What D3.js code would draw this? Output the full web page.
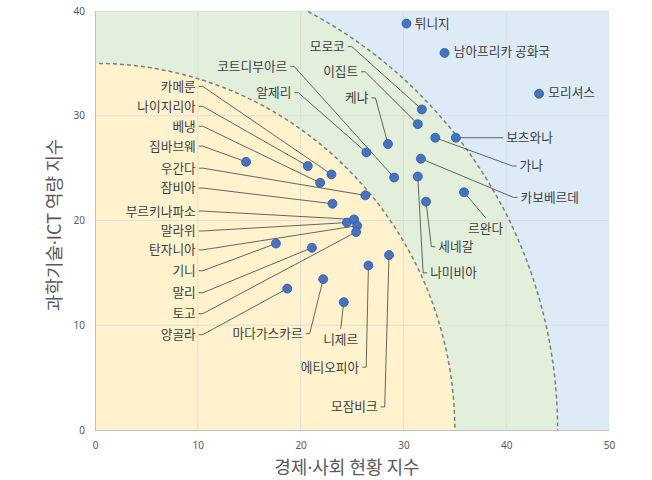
<!DOCTYPE html>
<html><head><meta charset="utf-8">
<script src="https://cdn.jsdelivr.net/npm/d3@7"></script>
<style>body{margin:0;background:#fff;}svg{display:block;font-family:"Noto Sans CJK KR","Noto Sans",sans-serif;}</style>
</head><body><svg id="c" width="652" height="480"></svg>
<script>
// ---- data ----
const countries = ["튀니지","남아프리카 공화국","모리셔스","모로코","이집트","케냐","보츠와나","가나","알제리","코트디부아르","카보베르데","나미비아","세네갈","르완다","짐바브웨","나이지리아","카메룬","베냉","우간다","잠비아","말라위","부르키나파소","탄자니아","토고","기니","말리","에티오피아","모잠비크","마다가스카르","양골라","니제르"];
const econIndex = [30.3,34.0,43.2,31.8,31.4,28.5,35.1,33.1,26.4,29.1,31.7,31.4,32.2,35.9,14.7,20.7,23.0,21.9,26.3,23.1,24.5,25.2,25.5,25.4,17.6,21.1,26.6,28.6,22.2,18.7,24.2];
const ictIndex  = [38.8,36.0,32.1,30.6,29.2,27.3,27.9,27.9,26.5,24.1,25.9,24.2,21.8,22.7,25.6,25.2,24.4,23.6,22.4,21.6,19.8,20.1,19.5,18.9,17.8,17.4,15.7,16.7,14.4,13.5,12.2];
// label anchor points (axis units) and label side
const labelX = [31.1,34.9,44.1,24.3,25.6,26.6,40.0,41.3,19.1,18.7,41.4,32.6,33.4,38.0,9.8,9.8,9.8,9.8,9.8,9.8,9.8,9.8,9.8,9.8,9.8,9.8,25.7,27.5,20.2,9.8,23.9];
const labelY = [38.8,36.1,32.2,36.6,34.2,31.7,27.9,25.2,32.2,34.7,22.2,15.0,17.5,19.2,27.1,30.9,32.8,29.0,25.0,23.1,19.0,20.9,17.2,11.1,15.2,13.1,6.0,2.2,9.2,9.1,8.6];
const labelSide = ["r","r","r","l","l","l","r","r","l","l","r","r","r","b","l","l","l","l","l","l","l","l","l","l","l","l","l","l","l","l","b"];
const leaderOn = [0,0,0,1,1,1,1,1,1,1,1,1,1,1,1,1,1,1,1,1,1,1,1,1,1,1,1,1,1,1,1];
const xTicks = [0,10,20,30,40,50];
const yTicks = [0,10,20,30,40];
const zoneRadii = [45,35];
const xTitleParts = ["경제","·","사회 현황 지수"];
const yTitleParts = ["과학기술","·","ICT 역량 지수"];

// ---- layout ----
const svg = d3.select("#c");
const L=95,T=11,R=609,B=430;
const x = d3.scaleLinear().domain([0,50]).range([L,R]);
const y = d3.scaleLinear().domain([0,40]).range([B,T]);

svg.append("clipPath").attr("id","pc").append("rect").attr("x",L).attr("y",T).attr("width",R-L).attr("height",B-T);
const plot = svg.append("g").attr("clip-path","url(#pc)");
plot.append("rect").attr("x",L).attr("y",T).attr("width",R-L).attr("height",B-T).attr("fill","#DDEBF7");
const zoneFill = ["#E2EFDA","#FFF2CC"];
zoneRadii.forEach((r,i)=>{
  plot.append("ellipse").attr("cx",x(0)).attr("cy",y(0))
    .attr("rx",x(r)-x(0)).attr("ry",y(0)-y(r)).attr("fill",zoneFill[i]);
});
// gridlines
plot.selectAll(".gx").data(xTicks.slice(1)).enter().append("line")
  .attr("x1",d=>x(d)).attr("x2",d=>x(d)).attr("y1",T).attr("y2",B)
  .attr("stroke","#d9d9d9").attr("stroke-opacity",0.8).attr("stroke-width",1);
plot.selectAll(".gy").data(yTicks.slice(1)).enter().append("line")
  .attr("y1",d=>y(d)).attr("y2",d=>y(d)).attr("x1",L).attr("x2",R)
  .attr("stroke","#d9d9d9").attr("stroke-opacity",0.8).attr("stroke-width",1);
zoneRadii.forEach(r=>{
  plot.append("ellipse").attr("cx",x(0)).attr("cy",y(0))
    .attr("rx",x(r)-x(0)).attr("ry",y(0)-y(r)).attr("fill","none")
    .attr("stroke","#7f7f7f").attr("stroke-width",1.5).attr("stroke-dasharray","4,3");
});
// axes lines
svg.append("line").attr("x1",L+0.5).attr("x2",L+0.5).attr("y1",T).attr("y2",B).attr("stroke","#bfbfbf");
svg.append("line").attr("x1",L).attr("x2",R).attr("y1",B+0.5).attr("y2",B+0.5).attr("stroke","#bfbfbf");

// ticks
const xAxis = svg.append("g").attr("transform",`translate(0,${B})`)
  .call(d3.axisBottom(x).tickValues(xTicks).tickSize(0).tickPadding(12));
const yAxis = svg.append("g").attr("transform",`translate(${L},0)`)
  .call(d3.axisLeft(y).tickValues(yTicks).tickSize(0).tickPadding(10));
[xAxis,yAxis].forEach(a=>{
  a.select(".domain").remove();
  a.selectAll("text").attr("fill","#595959").style("font-size","10px").style("font-family","'Noto Sans','DejaVu Sans',sans-serif");
});

// titles
function titleText(sel, parts){
  parts.forEach(p=>{
    const t = sel.append("tspan").text(p);
    if(p==="·") t.style("font-family","'Noto Sans','DejaVu Sans',sans-serif");
  });
}
const xt = svg.append("text").attr("x",(L+R)/2-5).attr("y",474).attr("text-anchor","middle")
  .attr("fill","#595959").style("font-size","18px");
titleText(xt,xTitleParts);
const yt = svg.append("text").attr("transform","translate(61,225) rotate(-90)").attr("text-anchor","middle")
  .attr("fill","#595959").style("font-size","18px");
titleText(yt,yTitleParts);

// leaders & labels
const pts = countries.map((c,i)=>({c,i,px:x(econIndex[i]),py:y(ictIndex[i]),lx:x(labelX[i]),ly:y(labelY[i]),side:labelSide[i]}));
const lg = svg.append("g");
pts.forEach(p=>{
  if(!leaderOn[p.i]) return;
  let path;
  if(p.side==="l"){
    path=[[p.lx+3,p.ly],[p.lx+7,p.ly],[p.px,p.py]];
  } else if(p.side==="r"){
    path=[[p.lx-3,p.ly],[p.lx-7,p.ly],[p.px,p.py]];
  } else {
    path=[[p.lx,p.ly-11],[p.px,p.py]];
  }
  lg.append("path").attr("d",d3.line()(path)).attr("fill","none")
    .attr("stroke","#404040").attr("stroke-width",0.8);
});
svg.append("g").selectAll("circle").data(pts).enter().append("circle")
  .attr("cx",d=>d.px).attr("cy",d=>d.py).attr("r",4.5)
  .attr("fill","#4472C4").attr("stroke","#2F5597").attr("stroke-width",0.75);
svg.append("g").selectAll("text").data(pts).enter().append("text")
  .attr("x",d=>d.lx).attr("y",d=>d.ly).attr("dy","0.35em")
  .attr("text-anchor",d=>d.side==="l"?"end":(d.side==="r"?"start":"middle"))
  .attr("fill","#404040").style("font-size","12.7px").text(d=>d.c);
</script></body></html>
